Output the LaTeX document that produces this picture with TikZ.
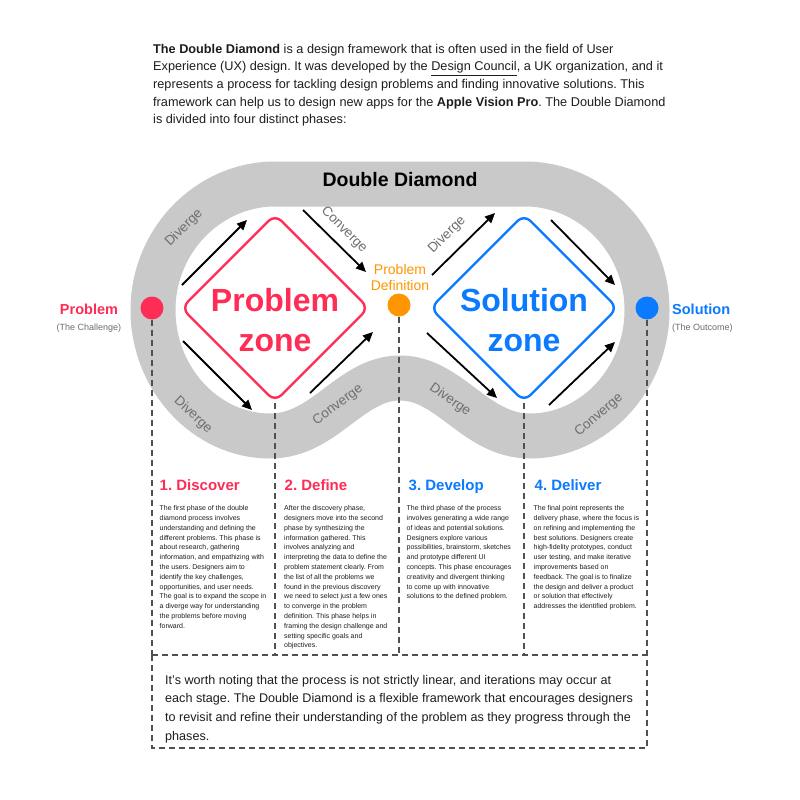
\documentclass[tikz,border=0pt]{standalone}
\usepackage{fontspec}
\setmainfont{Liberation Sans}
\usetikzlibrary{arrows.meta,shapes.geometric}
\definecolor{ddred}{HTML}{FF2D55}
\definecolor{ddblue}{HTML}{0A7AFF}
\definecolor{ddorange}{HTML}{FF9500}
\definecolor{bandgray}{HTML}{C9C9C9}
\definecolor{dashgray}{HTML}{505050}
\definecolor{lblgray}{HTML}{6E6E6E}
\definecolor{bodytxt}{HTML}{1E1E1E}
\newcommand{\fsz}[2]{\fontsize{#1}{#2}\selectfont}
\frenchspacing
\begin{document}
\frenchspacing
\begin{tikzpicture}[x=1pt,y=-1pt,
  arr/.style={line width=1.8pt,-{Triangle[length=10pt,width=9pt]},black},
  phase/.style={font=\bfseries\fsz{15}{18},anchor=base west,inner sep=0},
  body/.style={font=\fsz{7}{9.8}\frenchspacing,text=bodytxt,align=left,anchor=north west,inner sep=0},
  sidelbl/.style={font=\fsz{13.5}{16},text=lblgray,inner sep=0},
  dashln/.style={dashgray,line width=1.4pt,dash pattern=on 6pt off 4pt},
  dot/.style={circle,minimum size=23pt,inner sep=0},
  zonebox/.style={diamond,minimum width=188pt,minimum height=188pt,inner sep=0,line width=2.4pt,rounded corners=9pt}
]
\useasboundingbox[fill=white] (0,0) rectangle (800,800);

% intro text
\node[font=\fsz{12.7}{17.6}\frenchspacing,text=bodytxt,align=left,anchor=north west,inner sep=0] (intro) at (153,43.8)
{\textbf{The Double Diamond} is a design framework that is often used in the field of User\\
Experience (UX) design. It was developed by the \underline{Design Council}, a UK organization, and it\\
represents a process for tackling design problems and finding innovative solutions. This\\
framework can help us to design new apps for the \textbf{Apple Vision Pro}. The Double Diamond\\
is divided into four distinct phases:};

% gray band
\draw[bandgray,line width=45pt,line join=round]
  (275,184) -- (525,184)
  .. controls (592,184) and (647,241) .. (647,310)
  .. controls (647,379) and (594,436) .. (530,436)
  .. controls (475,436) and (450,378) .. (400,378)
  .. controls (350,378) and (325,436) .. (270,436)
  .. controls (206,436) and (153,379) .. (153,310)
  .. controls (153,241) and (208,184) .. (275,184) -- cycle;

\node[font=\bfseries\fsz{19.5}{22},anchor=base,inner sep=0] (title) at (400,186.5) {Double Diamond};

% diamonds
\node[zonebox,draw=ddred] (pz) at (275,308) {};
\node[zonebox,draw=ddblue] (sz) at (524,308) {};
\node[font=\bfseries\fsz{32}{40},text=ddred,align=center,anchor=north,inner sep=0] (pzt) at (275,287.7) {Problem\\zone};
\node[font=\bfseries\fsz{32}{40},text=ddblue,align=center,anchor=north,inner sep=0] (szt) at (524,287.7) {Solution\\zone};

% dots
\node[dot,fill=ddred] (pl) at (152,308) {};
\node[dot,fill=ddorange] (pd) at (399,305) {};
\node[dot,fill=ddblue] (sl) at (647,308) {};

\node[font=\fsz{14}{16},text=ddorange,align=center,anchor=north,inner sep=0] (pdt) at (400,263.8) {Problem\\Definition};

\node[font=\bfseries\fsz{14.5}{16},text=ddred,anchor=base,inner sep=0] (plt) at (89,314) {Problem};
\node[font=\fsz{9}{11},text=lblgray,anchor=base,inner sep=0] (pls) at (89,330) {(The Challenge)};
\node[font=\bfseries\fsz{14.5}{16},text=ddblue,anchor=base west,inner sep=0] (slt) at (672,314) {Solution};
\node[font=\fsz{9}{11},text=lblgray,anchor=base west,inner sep=0] (sls) at (672,330) {(The Outcome)};

% arrows
\coordinate (a1s) at (182,285); \coordinate (a1e) at (247,220);
\coordinate (a2s) at (303,210); \coordinate (a2e) at (366,272);
\coordinate (a3s) at (183,341); \coordinate (a3e) at (252,410);
\coordinate (a4s) at (310,393); \coordinate (a4e) at (373,332);
\coordinate (a5s) at (432,275); \coordinate (a5e) at (495,213);
\coordinate (a6s) at (551,220); \coordinate (a6e) at (615,285);
\coordinate (a7s) at (427,333); \coordinate (a7e) at (497,398);
\coordinate (a8s) at (549,405); \coordinate (a8e) at (615,342);
\foreach \i in {1,...,8} {\draw[arr] (a\i s) -- (a\i e);}

% arrow labels
\node[sidelbl,rotate=45] (l1) at (184,228) {Diverge};
\node[sidelbl,rotate=-45] (l2) at (344,230) {Converge};
\node[sidelbl,rotate=45] (l3) at (447,235) {Diverge};
\node[sidelbl,rotate=-43] (l4) at (193,415) {Diverge};
\node[sidelbl,rotate=37] (l5) at (338,405) {Converge};
\node[sidelbl,rotate=-35] (l6) at (450,400) {Diverge};
\node[sidelbl,rotate=41] (l7) at (599,415) {Converge};

% dashed frame
\coordinate (c0) at (152,655);
\coordinate (c1) at (275,655);
\coordinate (c2) at (399,655);
\coordinate (c3) at (524,655);
\coordinate (c4) at (647,655);
\coordinate (b0) at (152,748);
\coordinate (b4) at (647,748);
\draw[dashln] (pl.south) -- (c0);
\draw[dashln] (pz.south) -- (c1);
\draw[dashln] (pd.south) -- (c2);
\draw[dashln] (sz.south) -- (c3);
\draw[dashln] (sl.south) -- (c4);
\draw[dashln] (c0) -- (c4);
\draw[dashln] (c0) -- (b0) -- (b4) -- (c4);

% phases
\node[phase,text=ddred] (h1) at (159.5,490) {1. Discover};
\node[phase,text=ddred] (h2) at (284.5,490) {2. Define};
\node[phase,text=ddblue] (h3) at (408.5,490) {3. Develop};
\node[phase,text=ddblue] (h4) at (534.5,490) {4. Deliver};

\node[body] (t1) at (159.5,505.4) {The first phase of the double\\
diamond process involves\\
understanding and defining the\\
different problems. This phase is\\
about research, gathering\\
information, and empathizing with\\
the users. Designers aim to\\
identify the key challenges,\\
opportunities, and user needs.\\
The goal is to expand the scope in\\
a diverge way for understanding\\
the problems before moving\\
forward.};

\node[body] (t2) at (284,505.4) {After the discovery phase,\\
designers move into the second\\
phase by synthesizing the\\
information gathered. This\\
involves analyzing and\\
interpreting the data to define the\\
problem statement clearly. From\\
the list of all the problems we\\
found in the previous discovery\\
we need to select just a few ones\\
to converge in the problem\\
definition. This phase helps in\\
framing the design challenge and\\
setting specific goals and\\
objectives.};

\node[body] (t3) at (406.5,505.4) {The third phase of the process\\
involves generating a wide range\\
of ideas and potential solutions.\\
Designers explore various\\
possibilities, brainstorm, sketches\\
and prototype different UI\\
concepts. This phase encourages\\
creativity and divergent thinking\\
to come up with innovative\\
solutions to the defined problem.};

\node[body] (t4) at (533.5,505.4) {The final point represents the\\
delivery phase, where the focus is\\
on refining and implementing the\\
best solutions. Designers create\\
high-fidelity prototypes, conduct\\
user testing, and make iterative\\
improvements based on\\
feedback. The goal is to finalize\\
the design and deliver a product\\
or solution that effectively\\
addresses the identified problem.};

\node[font=\fsz{12.6}{18.7}\frenchspacing,text=bodytxt,align=left,anchor=north west,inner sep=0] (note) at (165,674.8)
{It's worth noting that the process is not strictly linear, and iterations may occur at\\
each stage. The Double Diamond is a flexible framework that encourages designers\\
to revisit and refine their understanding of the problem as they progress through the\\
phases.};
\end{tikzpicture}
\end{document}
